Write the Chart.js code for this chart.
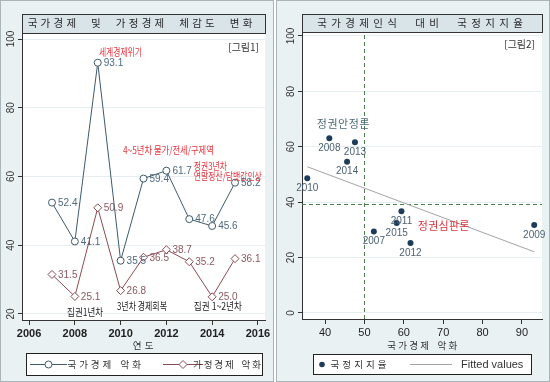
<!DOCTYPE html>
<html>
<head>
<meta charset="utf-8">
<script src="https://cdn.jsdelivr.net/npm/chart.js@4.4.1/dist/chart.umd.min.js"></script>
<style>
  body { margin: 0; background: #fff; width: 550px; height: 382px; position: relative; overflow: hidden; }
  canvas { position: absolute; top: 0; }
  #left { left: 0; }
  #right { left: 276px; }
</style>
</head>
<body>
<canvas id="left" width="274" height="382"></canvas>
<canvas id="right" width="274" height="382"></canvas>
<script>
// data
const years = [2007, 2008, 2009, 2010, 2011, 2012, 2013, 2014, 2015];
const nationalEcon = [52.4, 41.1, 93.1, 35.5, 59.4, 61.7, 47.6, 45.6, 58.2];
const householdEcon = [31.5, 25.1, 50.9, 26.8, 36.5, 38.7, 35.2, 25.0, 36.1];
const approval = [29.4, 63.1, 31.8, 48.6, 36.7, 25.3, 61.6, 54.6, 32.5];
const fitX = [35.5, 93.1];
const fitY = [52.8, 22.1];

const yearTicks = [2006, 2008, 2010, 2012, 2014, 2016];
const leftYTicks = [20, 40, 60, 80, 100];
const econTicks = [40, 50, 60, 70, 80, 90];
const rightYTicks = [0, 20, 40, 60, 80, 100];

const KR = '"Noto Sans CJK KR", "Noto Sans", sans-serif';
const NAVY = '#3e5a6c';
const MAROON = '#8c4b54';
const RED = '#e8333c';

// draws each character in its own cell between x0 and x1 (spaces get a narrower cell)
function spread(ctx, text, x0, x1, y, spaceW = 0.55) {
  const chars = [...text];
  const units = chars.reduce((s, ch) => s + (ch === ' ' ? spaceW : 1), 0);
  const pitch = (x1 - x0) / units;
  ctx.textAlign = 'center';
  let x = x0;
  chars.forEach(ch => {
    const w = (ch === ' ' ? spaceW : 1) * pitch;
    if (ch !== ' ') ctx.fillText(ch, x + w / 2, y);
    x += w;
  });
}

function drawYLabels(chart, ticks, x) {
  const ctx = chart.ctx, s = chart.scales.y;
  ctx.font = '10px Arial, "Liberation Sans"';
  ctx.fillStyle = '#333';
  ticks.forEach(v => {
    ctx.save();
    ctx.translate(x, s.getPixelForValue(v));
    ctx.rotate(-Math.PI / 2);
    ctx.textAlign = 'center';
    ctx.textBaseline = 'middle';
    ctx.fillText(String(v), 0, 0);
    ctx.restore();
  });
}

function titleBox(chart, text, x0, x1, spaceW) {
  const ctx = chart.ctx, a = chart.chartArea;
  ctx.fillStyle = '#d9e4e9';
  ctx.fillRect(a.left, 14, a.right - a.left, a.top - 14);
  ctx.strokeStyle = '#333';
  ctx.lineWidth = 1;
  ctx.strokeRect(a.left + 0.5, 14.5, a.right - a.left, a.top - 14);
  ctx.fillStyle = '#2a2a2a';
  ctx.font = '10.5px ' + KR;
  ctx.textBaseline = 'middle';
  spread(ctx, text, x0, x1, 23.5, spaceW);
}

const panel = {
  id: 'panel',
  beforeDraw(chart) {
    const { ctx, chartArea: a, width, height } = chart;
    ctx.save();
    ctx.fillStyle = '#eaf1f3';
    ctx.fillRect(0, 0, width, height);
    ctx.strokeStyle = '#aab5b9';
    ctx.lineWidth = 1;
    ctx.strokeRect(0.5, 0.5, width - 1, height - 1);
    ctx.fillStyle = '#fff';
    ctx.fillRect(a.left, a.top, a.right - a.left, a.bottom - a.top);
    ctx.restore();
  }
};

function fixTicks(list) {
  return s => { s.ticks = list.map(v => ({ value: v })); };
}

// ---------- left chart ----------
const leftNotes = [
  { text: '세계경제위기', x: 2009.05, y: 96.1, w: 43, color: RED },
  { text: '4~5년차 물가/전세/구제역', x: 2010.1, y: 67.7, w: 91, color: RED },
  { text: '정권3년차', x: 2013.2, y: 62.9, w: 33, color: RED },
  { text: '연말정산/담뱃값인상', x: 2013.2, y: 60.0, w: 68, color: RED },
  { text: '집권1년차', x: 2007.66, y: 20.6, w: 36, color: '#222' },
  { text: '3년차 경제회복', x: 2009.84, y: 22.3, w: 50, color: '#222' },
  { text: '집권 1~2년차', x: 2013.2, y: 22.3, w: 48, color: '#222' }
];

const leftDecor = {
  id: 'leftDecor',
  afterDraw(chart) {
    const ctx = chart.ctx, a = chart.chartArea;
    const sx = chart.scales.x, sy = chart.scales.y;
    ctx.save();
    titleBox(chart, '국가경제 및 가정경제 체감도 변화', 26, 254, 0.9);
    drawYLabels(chart, leftYTicks, 11);

    // value labels to the right of each marker
    ctx.font = '10px Arial, "Liberation Sans"';
    ctx.textAlign = 'left';
    ctx.textBaseline = 'middle';
    [[nationalEcon, '#4d6a7e'], [householdEcon, '#8a5860']].forEach(([vals, col], i) => {
      ctx.fillStyle = col;
      chart.getDatasetMeta(i).data.forEach((pt, j) => {
        ctx.fillText(vals[j].toFixed(1), pt.x + 6, pt.y + 0.5);
      });
    });

    ctx.font = '10px ' + KR;
    leftNotes.forEach(n => {
      ctx.fillStyle = n.color;
      ctx.textAlign = 'left';
      ctx.fillText(n.text, sx.getPixelForValue(n.x), sy.getPixelForValue(n.y), n.w);
    });
    ctx.fillStyle = '#333';
    ctx.textAlign = 'right';
    ctx.fillText('[그림1]', a.right - 6, a.top + 14);

    // axis title
    ctx.fillStyle = '#333';
    ctx.font = '9.5px ' + KR;
    spread(ctx, '연도', 131, 155, 345);

    // legend
    ctx.fillStyle = '#fff';
    ctx.fillRect(26, 353, 236, 22);
    ctx.strokeStyle = '#222';
    ctx.strokeRect(26.5, 353.5, 236, 22);
    const ly = 364.5;
    ctx.lineWidth = 1;
    ctx.strokeStyle = NAVY;
    ctx.beginPath(); ctx.moveTo(30, ly); ctx.lineTo(67, ly); ctx.stroke();
    ctx.fillStyle = '#fff';
    ctx.beginPath(); ctx.arc(48.5, ly, 3.5, 0, Math.PI * 2); ctx.fill(); ctx.stroke();
    ctx.strokeStyle = MAROON;
    ctx.beginPath(); ctx.moveTo(163, ly); ctx.lineTo(203, ly); ctx.stroke();
    ctx.beginPath();
    ctx.moveTo(183, ly - 4); ctx.lineTo(187, ly); ctx.lineTo(183, ly + 4); ctx.lineTo(179, ly); ctx.closePath();
    ctx.fill(); ctx.stroke();
    ctx.fillStyle = '#333';
    ctx.font = '9.5px ' + KR;
    ctx.textBaseline = 'middle';
    spread(ctx, chart.data.datasets[0].label, 66, 142.5, ly);
    spread(ctx, chart.data.datasets[1].label, 192, 262, ly);
    ctx.restore();
  }
};

new Chart(document.getElementById('left'), {
  type: 'line',
  data: {
    datasets: [
      {
        label: '국가경제 악화',
        data: years.map((y, i) => ({ x: y, y: nationalEcon[i] })),
        borderColor: NAVY, borderWidth: 1,
        pointStyle: 'circle', pointRadius: 3.5,
        pointBackgroundColor: '#fff', pointBorderColor: NAVY, pointBorderWidth: 1
      },
      {
        label: '가정경제 악화',
        data: years.map((y, i) => ({ x: y, y: householdEcon[i] })),
        borderColor: MAROON, borderWidth: 1,
        pointStyle: 'rectRot', pointRadius: 4,
        pointBackgroundColor: '#fff', pointBorderColor: MAROON, pointBorderWidth: 1
      }
    ]
  },
  options: {
    responsive: false,
    animation: false,
    layout: { padding: { left: 18, right: 9, top: 33, bottom: 42 } },
    plugins: { legend: { display: false }, tooltip: { enabled: false } },
    scales: {
      x: {
        type: 'linear', min: 2005.69, max: 2016.31,
        afterBuildTicks: fixTicks(yearTicks),
        afterFit: s => { s.height = 20; },
        ticks: { callback: v => String(v), color: '#222', font: { family: 'Arial', size: 11, weight: 'bold' }, padding: 2, maxRotation: 0 },
        grid: { drawOnChartArea: false, tickLength: 5, tickColor: '#333' },
        border: { color: '#333' }
      },
      y: {
        min: 18.25, max: 101.75,
        afterBuildTicks: fixTicks(leftYTicks),
        afterFit: s => { s.width = 4; },
        ticks: { display: false },
        grid: { color: '#e6eef1', tickLength: 4, tickColor: '#333' },
        border: { color: '#333' }
      }
    }
  },
  plugins: [panel, leftDecor]
});

// ---------- right chart ----------
const rightDecor = {
  id: 'rightDecor',
  beforeDatasetsDraw(chart) {
    const ctx = chart.ctx, a = chart.chartArea;
    const sx = chart.scales.x, sy = chart.scales.y;
    ctx.save();
    ctx.strokeStyle = '#4e7d52';
    ctx.lineWidth = 1;
    ctx.setLineDash([4, 3]);
    const vx = Math.round(sx.getPixelForValue(50)) + 0.5;
    ctx.beginPath(); ctx.moveTo(vx, a.bottom); ctx.lineTo(vx, a.top); ctx.stroke();
    const hy = Math.round(sy.getPixelForValue(39.3)) + 0.5;
    ctx.beginPath(); ctx.moveTo(a.left, hy); ctx.lineTo(a.right, hy); ctx.stroke();
    ctx.restore();
  },
  afterDraw(chart) {
    const ctx = chart.ctx, a = chart.chartArea;
    const sx = chart.scales.x, sy = chart.scales.y;
    ctx.save();
    titleBox(chart, '국가경제인식 대비 국정지지율', 39, 249, 1);
    drawYLabels(chart, rightYTicks, 15);

    // year labels under each point
    ctx.font = '10px Arial, "Liberation Sans"';
    ctx.fillStyle = '#4d6272';
    ctx.textBaseline = 'middle';
    ctx.textAlign = 'center';
    chart.getDatasetMeta(0).data.forEach((pt, j) => {
      ctx.fillText(String(years[j]), pt.x, pt.y + 10);
    });

    ctx.font = '11px ' + KR;
    ctx.fillStyle = '#4a6a78';
    let px = sx.getPixelForValue(44.6);
    spread(ctx, '정권안정론', px - 26.5, px + 26.5, sy.getPixelForValue(68.2));
    ctx.fillStyle = '#d8343c';
    px = sx.getPixelForValue(70.1);
    spread(ctx, '정권심판론', px - 26, px + 26, sy.getPixelForValue(31.4));

    ctx.font = '10px ' + KR;
    ctx.fillStyle = '#333';
    ctx.textAlign = 'right';
    ctx.fillText('[그림2]', a.right - 7, a.top + 12);

    ctx.font = '9.5px ' + KR;
    spread(ctx, '국가경제 악화', 110, 182.5, 345);

    // legend
    ctx.fillStyle = '#fff';
    ctx.fillRect(37, 354, 218, 20);
    ctx.strokeStyle = '#222';
    ctx.lineWidth = 1;
    ctx.strokeRect(37.5, 354.5, 218, 20);
    const ly = 364.5;
    ctx.fillStyle = '#1d3c5a';
    ctx.beginPath(); ctx.arc(46, ly, 2.8, 0, Math.PI * 2); ctx.fill();
    ctx.strokeStyle = '#a4a4a4';
    ctx.beginPath(); ctx.moveTo(134, ly); ctx.lineTo(176, ly); ctx.stroke();
    ctx.fillStyle = '#333';
    ctx.textBaseline = 'middle';
    ctx.font = '9.5px ' + KR;
    spread(ctx, chart.data.datasets[0].label, 53, 112, ly);
    ctx.textAlign = 'left';
    ctx.font = '11px Arial, "Liberation Sans"';
    ctx.fillText(chart.data.datasets[1].label, 185, ly);
    ctx.restore();
  }
};

new Chart(document.getElementById('right'), {
  type: 'scatter',
  data: {
    datasets: [
      {
        label: '국정지지율',
        data: nationalEcon.map((v, i) => ({ x: v, y: approval[i] })),
        pointRadius: 3, pointBackgroundColor: '#1d3c5a', pointBorderColor: '#1d3c5a', borderWidth: 0
      },
      {
        type: 'line',
        label: 'Fitted values',
        data: fitX.map((v, i) => ({ x: v, y: fitY[i] })),
        borderColor: '#a4a4a4', borderWidth: 1, pointRadius: 0
      }
    ]
  },
  options: {
    responsive: false,
    animation: false,
    layout: { padding: { left: 22, right: 8, top: 32, bottom: 43 } },
    plugins: { legend: { display: false }, tooltip: { enabled: false } },
    scales: {
      x: {
        type: 'linear', min: 34.16, max: 95.08,
        afterBuildTicks: fixTicks(econTicks),
        afterFit: s => { s.height = 20; },
        ticks: { callback: v => String(v), color: '#222', font: { family: 'Arial', size: 11 }, padding: 2, maxRotation: 0 },
        grid: { drawOnChartArea: false, tickLength: 5, tickColor: '#333' },
        border: { color: '#333' }
      },
      y: {
        min: -2.17, max: 101.44,
        afterBuildTicks: fixTicks(rightYTicks),
        afterFit: s => { s.width = 4; },
        ticks: { display: false },
        grid: { color: '#e6eef1', tickLength: 4, tickColor: '#333' },
        border: { color: '#333' }
      }
    }
  },
  plugins: [panel, rightDecor]
});
</script>
</body>
</html>
